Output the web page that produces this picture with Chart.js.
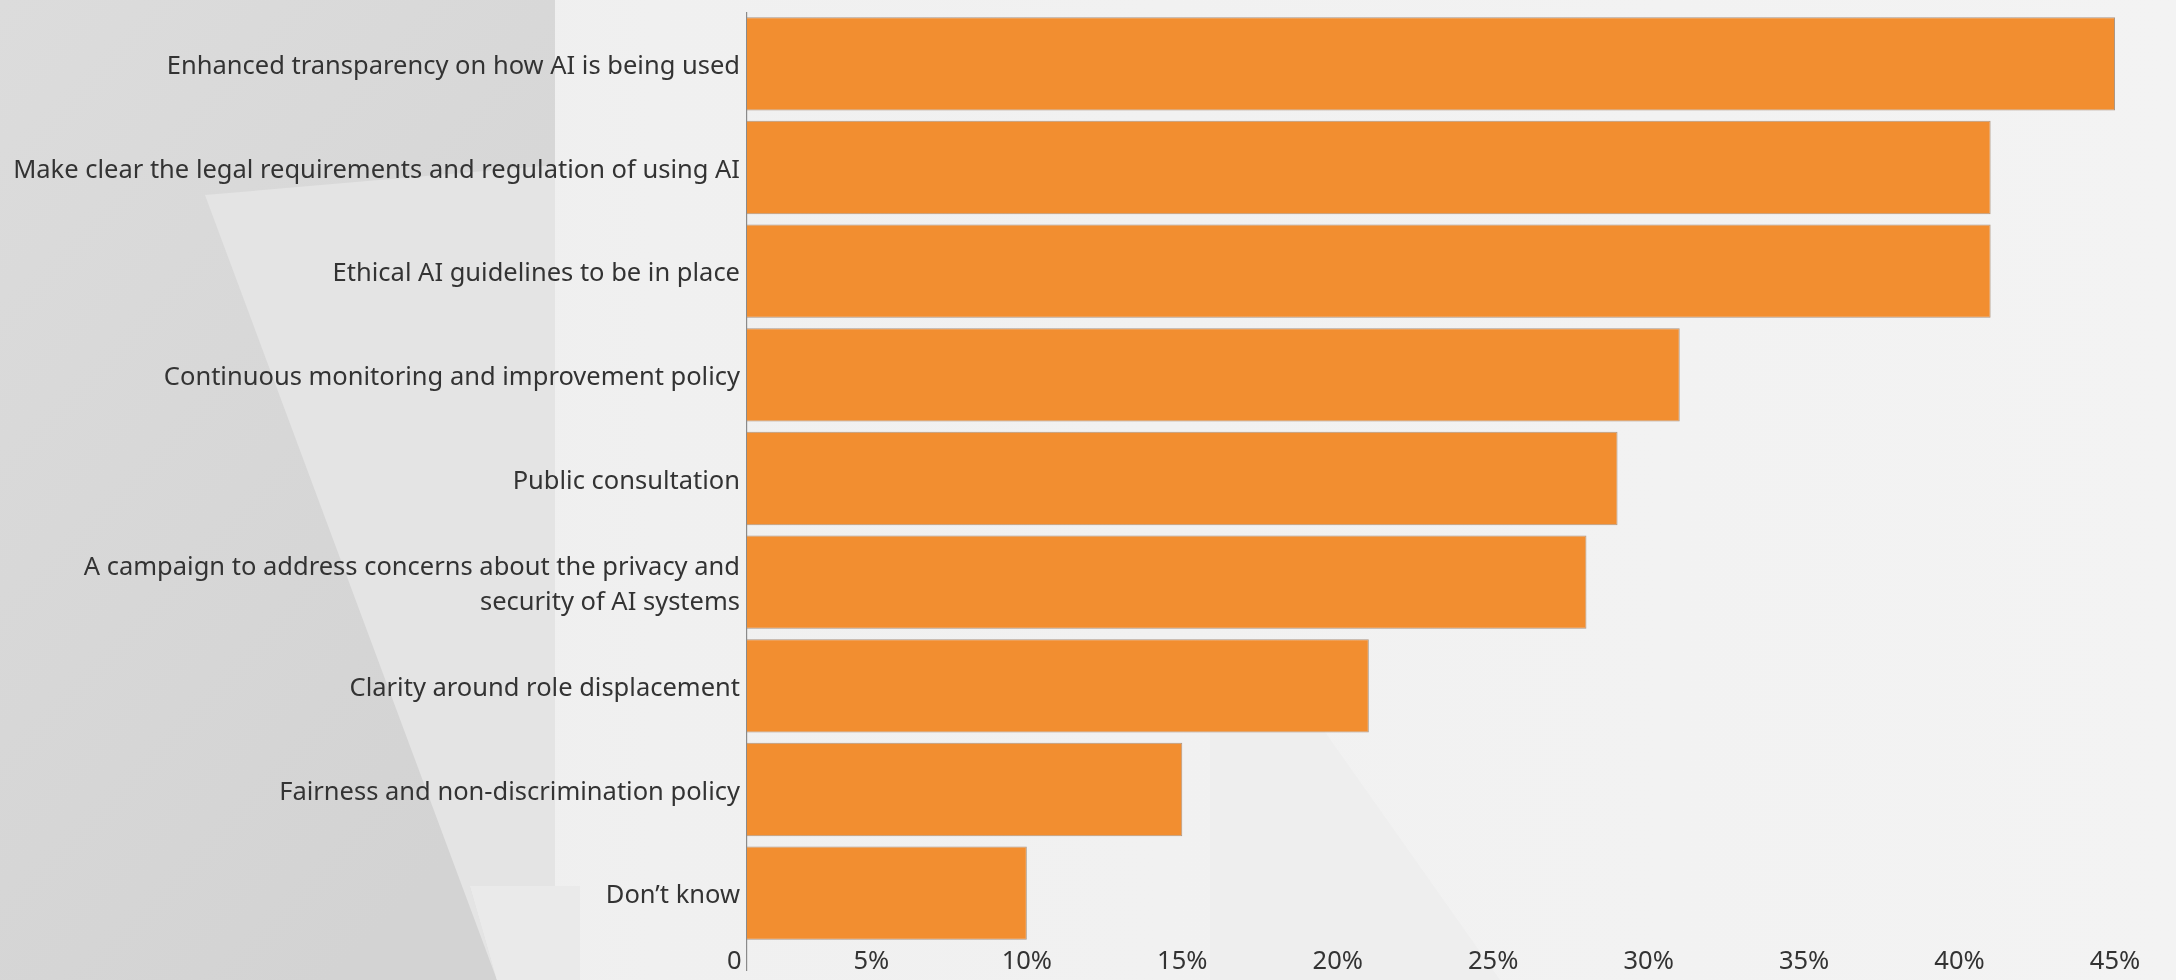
<!DOCTYPE html>
<html>
<head>
<meta charset="utf-8">
<script src="https://cdn.jsdelivr.net/npm/chart.js@4"></script>
<style>
  html, body { margin: 0; padding: 0; }
  body {
    width: 2176px;
    height: 980px;
    overflow: hidden;
    background-color: #f2f2f2;
  }
  #paper { position: absolute; left: 0; top: 0; }
  #wrap { position: absolute; left: 0; top: 0; width: 2176px; height: 980px; }
</style>
</head>
<body>
<!-- grey paper backdrop behind the chart -->
<svg id="paper" width="2176" height="980" viewBox="0 0 2176 980">
  <defs>
    <linearGradient id="leftShade" x1="0" y1="0" x2="0.6" y2="1">
      <stop offset="0" stop-color="#dcdcdc"/>
      <stop offset="1" stop-color="#d3d3d3"/>
    </linearGradient>
    <linearGradient id="rightShade" x1="0" y1="0" x2="1" y2="0">
      <stop offset="0" stop-color="#ebebeb"/>
      <stop offset="0.3" stop-color="#f0f0f0"/>
      <stop offset="1" stop-color="#f3f3f3"/>
    </linearGradient>
  </defs>
  <rect x="0" y="0" width="2176" height="980" fill="url(#rightShade)"/>
  <polygon points="0,0 555,0 555,886 470,886 497,980 0,980" fill="url(#leftShade)"/>
  <polygon points="205,195 555,165 555,886 470,886 497,980" fill="#e4e4e4"/>
  <polygon points="470,886 580,886 580,980 497,980" fill="#eaeaea"/>
  <polygon points="1210,730 1260,640 1500,980 1210,980" fill="#eeeeee"/>
</svg>
<div id="wrap"><canvas id="myChart"></canvas></div>
<script>
const ctx = document.getElementById("myChart")

const categories = [
  'Enhanced transparency on how AI is being used',
  'Make clear the legal requirements and regulation of using AI',
  'Ethical AI guidelines to be in place',
  'Continuous monitoring and improvement policy',
  'Public consultation',
  ['A campaign to address concerns about the privacy and', 'security of AI systems'],
  'Clarity around role displacement',
  'Fairness and non-discrimination policy',
  'Don\u2019t know'
]

const shares = [45, 41, 41, 31, 29, 28, 21, 15, 10]

// axis starts a little past zero, the first tick is shown as "0"
const axisStart = 1
const axisEnd = 45
const tickValues = [axisStart, 5, 10, 15, 20, 25, 30, 35, 40, 45]
const tickLabels = ['0\u2003', '5%', '10%', '15%', '20%', '25%', '30%', '35%', '40%', '45%']

Chart.defaults.font.family = "'Noto Sans', sans-serif"
Chart.defaults.color = '#333333'

const data = {
  labels: categories,
  datasets: [{
    data: shares,
    backgroundColor: 'rgb(242, 142, 48)',
    borderColor: 'rgba(150, 120, 95, 0.75)',
    borderWidth: 1,
    barPercentage: 0.9,
    categoryPercentage: 1.0
  }]
}

const config = {
  type: 'bar',
  data: data,
  options: {
    indexAxis: 'y',
    responsive: true,
    maintainAspectRatio: false,
    animation: false,
    layout: { padding: { top: 12, right: 61, bottom: 0, left: 0 } },
    plugins: {
      legend: { display: false },
      tooltip: { enabled: false }
    },
    scales: {
      x: {
        type: 'linear',
        min: axisStart,
        max: axisEnd,
        afterBuildTicks: (scale) => {
          scale.ticks = tickValues.map(v => ({ value: v }))
        },
        afterFit: (scale) => { scale.height = 35 },
        ticks: {
          font: { size: 25.5 },
          color: '#333333',
          padding: -25,
          maxRotation: 0,
          autoSkip: false,
          callback: (value) => tickLabels[tickValues.indexOf(value)]
        },
        grid: {
          drawOnChartArea: true,
          tickLength: 26,
          lineWidth: 1.2,
          color: (c) => c.index === 0 ? '#8a8a8a' : 'rgba(0,0,0,0)'
        },
        border: { display: false }
      },
      y: {
        afterFit: (scale) => {
          scale.width = 747
          scale.paddingTop = 0
          scale.paddingBottom = 0
        },
        ticks: {
          font: { size: 25.5, lineHeight: 1.36 },
          color: '#333333',
          padding: 7,
          labelOffset: 3
        },
        grid: { display: false, drawTicks: false },
        border: { display: false }
      }
    }
  }
}

const myChart = new Chart(ctx, config)
</script>
</body>
</html>
